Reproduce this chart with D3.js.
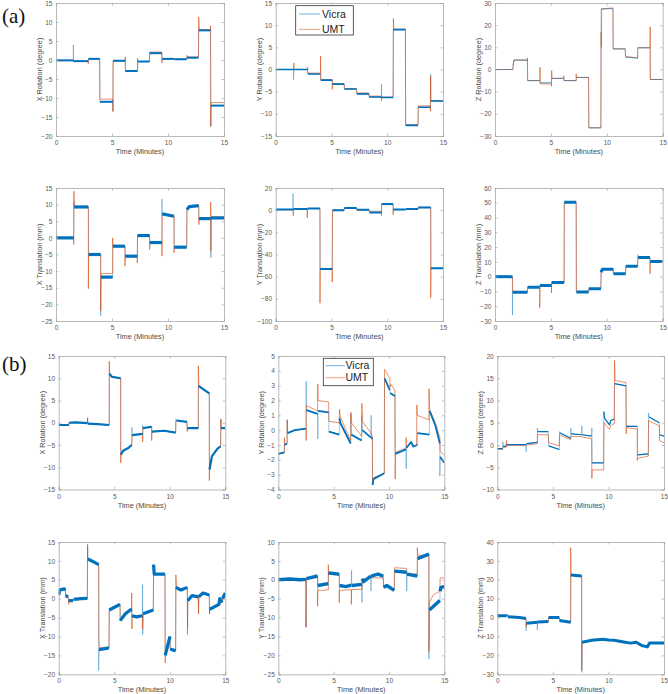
<!DOCTYPE html>
<html><head><meta charset="utf-8">
<script src="https://cdn.jsdelivr.net/npm/d3@7"></script>
<style>body{margin:0;background:#fff}svg{display:block}</style>
</head><body>
<script>
// ---------- DATA ----------
const xTicks = [0, 5, 10, 15];
const seriesNames = ["Vicra", "UMT"];
const panelLabels = ["(a)", "(b)"];
const yLabels = ["X Rotation (degree)", "Y Rotation (degree)", "Z Rotation (degree)",
                 "X Translation (mm)", "Y Translation (mm)", "Z Translation (mm)"];
const xLabel = "Time (Minutes)";

const yTicksA1 = [-20,-15,-10,-5,0,5,10,15];
const yTicksA2 = [-15,-10,-5,0,5,10,15];
const yTicksA3 = [-30,-20,-10,0,10,20,30];
const yTicksA4 = [-25,-20,-15,-10,-5,0,5,10,15];
const yTicksA5 = [-100,-80,-60,-40,-20,0,20];
const yTicksA6 = [-30,-20,-10,0,10,20,30,40,50,60];
const yTicksB1 = [-15,-10,-5,0,5,10,15];
const yTicksB2 = [-4,-3,-2,-1,0,1,2,3,4,5];
const yTicksB3 = [-10,-5,0,5,10,15,20];
const yTicksB4 = [-20,-15,-10,-5,0,5,10,15];
const yTicksB5 = [-25,-20,-15,-10,-5,0,5,10];
const yTicksB6 = [-30,-20,-10,0,10,20,30,40];

// [time (min), value]
const a1Vicra = [[0,-0.1],[1.55,-0.1],[1.55,4],[1.56,-0.3],[2.88,-0.3],[2.9,0.3],[3.9,0.3],[3.92,-11],[5.08,-11],[5.08,-13.6],[5.1,-0.2],[6.18,-0.2],[6.2,-2.9],[7.28,-2.9],[7.3,-0.4],[8.35,-0.4],[8.37,1.8],[9.45,1.8],[9.47,0.3],[10.57,0.3],[10.59,0.2],[11.67,0.2],[11.69,0.6],[12.72,0.6],[12.74,7.8],[13.8,7.8],[13.82,-17.5],[13.84,-12],[15,-12]];
const a1UMT = [[0,-0.1],[1.55,-0.1],[1.57,-0.4],[2.88,-0.4],[2.88,-1],[2.9,0.3],[3.9,0.3],[3.92,-10.3],[5.08,-10.3],[5.08,-13.5],[5.1,-0.2],[6.16,-0.2],[6.18,0.8],[6.2,-2.8],[7.28,-2.8],[7.28,0.5],[7.3,-0.4],[8.35,-0.4],[8.37,2.1],[9.45,2.1],[9.45,-0.8],[9.47,0.3],[10.57,0.3],[10.59,0.2],[11.67,0.2],[11.69,1.2],[11.71,0.8],[12.72,0.8],[12.74,11.3],[12.8,8],[13.78,8],[13.8,9],[13.82,-17.5],[13.84,-11.2],[15,-11.2]];

const a2Vicra = [[0,0],[1.6,0],[1.6,-2.3],[1.62,0],[2.86,0],[2.88,-1],[4.02,-1],[4.04,-2.4],[5.07,-2.4],[5.09,-3.3],[6.14,-3.3],[6.16,-4.4],[7.25,-4.4],[7.27,-5.5],[8.35,-5.5],[8.37,-6.2],[9.48,-6.2],[9.48,-3.3],[9.5,-6.3],[10.53,-6.3],[10.55,9],[11.63,9],[11.65,-12.6],[12.76,-12.6],[12.78,-8.5],[13.87,-8.5],[13.89,-1],[13.91,-7.1],[15,-7.1]];
const a2UMT = [[0,0],[1.6,0],[1.63,1.5],[1.65,0],[2.86,0],[2.86,0.5],[2.88,-0.8],[4.02,-0.8],[4.02,3],[4.04,-2.3],[5.07,-2.3],[5.07,-4.5],[5.09,-3.2],[6.14,-3.2],[6.16,-4.3],[7.25,-4.3],[7.27,-5.3],[8.35,-5.3],[8.37,-6],[9.46,-6],[9.48,-7],[9.5,-6.2],[10.53,-6.2],[10.55,11.5],[10.6,9.1],[11.63,9.1],[11.65,-12.4],[12.76,-12.4],[12.78,-8.2],[13.87,-8.2],[13.87,-9.4],[13.89,-1.5],[13.91,-7],[15,-7]];

const a3Vicra = [[0,0],[1.6,0],[1.62,2],[1.7,4.2],[2.9,4.2],[2.92,-5],[4.02,-5],[4.04,-6],[5.05,-6],[5.07,-4],[6.15,-4],[6.17,-5],[7.26,-5],[7.28,-3.6],[8.37,-3.6],[8.39,-26.3],[9.47,-26.3],[9.49,27.3],[10.55,27.5],[10.57,9.3],[11.65,9.3],[11.67,5.5],[12.76,5.2],[12.78,9.8],[13.86,9.8],[13.88,-4.5],[15,-4.5]];
const a3UMT = [[0,0],[1.6,0],[1.62,2],[1.7,4.3],[2.9,4.3],[2.9,5.2],[2.92,-5],[4.02,-5],[4.02,1],[4.04,-6.5],[5.05,-6.5],[5.05,-7.5],[5.07,-0.5],[5.09,-4],[6.15,-4],[6.15,-2.8],[6.17,-5],[7.26,-5],[7.26,-2],[7.28,-3.6],[8.37,-3.6],[8.39,-26.3],[9.47,-26.3],[9.49,17],[9.52,10],[9.54,27.3],[10.55,27.8],[10.57,9.3],[11.65,9.3],[11.67,6],[12.76,5.2],[12.76,9.5],[12.78,9.8],[13.86,9.8],[13.88,19.2],[13.9,-4.5],[15,-4.5]];

const a4Vicra = [[0,0],[1.58,0],[1.6,11],[1.62,9.3],[2.89,9.3],[2.91,-5],[3.99,-5],[3.99,-23.5],[4.01,-11.8],[5.06,-11.8],[5.08,-2.5],[6.16,-2.5],[6.18,-5.5],[7.26,-5.5],[7.28,0.7],[8.36,0.7],[8.38,-1.4],[9.46,-1.4],[9.46,11.7],[9.48,7.2],[10.54,6.5],[10.56,-2.8],[11.67,-2.8],[11.69,8.5],[11.9,9.4],[12.74,9.7],[12.76,5.8],[13.81,5.8],[13.83,-6],[13.85,6],[15,6]];
const a4UMT = [[0,0],[1.58,0],[1.58,-2],[1.6,14],[1.63,9.3],[2.89,9.3],[2.89,-15.3],[2.91,-5],[3.99,-5],[3.99,-22],[4.01,-10.7],[5.06,-10.7],[5.06,0],[5.08,-2.5],[6.16,-2.5],[6.16,-8.5],[6.18,-5.5],[7.26,-5.5],[7.26,-7.5],[7.28,0.7],[8.36,0.7],[8.36,-3.5],[8.38,-1.4],[9.46,-1.4],[9.46,-5.5],[9.48,7.2],[10.54,6.5],[10.54,-4.5],[10.56,-2.8],[11.67,-2.8],[11.69,8.5],[11.9,9.4],[12.74,9.7],[12.76,4],[12.78,5.8],[13.81,5.8],[13.81,10.8],[13.83,-4],[13.85,6.3],[15,6.3]];

const a5Vicra = [[0,0.5],[1.55,0.5],[1.55,15],[1.57,1],[2.83,1],[2.85,1.5],[3.97,1.5],[3.99,-53],[5.07,-53],[5.09,0],[6.14,0],[6.16,2],[7.25,2],[7.27,0.3],[8.38,0.3],[8.4,-2],[9.48,-2],[9.5,5.5],[10.53,5.5],[10.55,0.5],[11.66,0.5],[11.68,1],[12.76,1],[12.78,2.5],[13.9,2.5],[13.92,-52.5],[15,-52.5]];
const a5UMT = [[0,0.5],[1.57,0.5],[1.57,-5],[1.59,1],[2.83,1],[2.83,-7],[2.85,1.5],[3.97,1.5],[3.97,-84],[3.99,-53],[5.07,-53],[5.07,-65],[5.09,0],[6.14,0],[6.16,2],[7.25,2],[7.27,0.3],[8.38,0.3],[8.4,-1],[9.48,-1],[9.48,-5],[9.5,5],[10.53,5],[10.53,-4],[10.55,0.5],[11.66,0.5],[11.68,1],[12.76,1],[12.78,2.5],[13.9,2.5],[13.9,-79],[13.92,-52.5],[15,-52.5]];

const a6Vicra = [[0,0],[1.56,0],[1.56,-26],[1.58,-10.5],[2.9,-10.5],[2.92,-7.2],[4,-7.2],[4.02,-6],[5.05,-6],[5.07,-4],[6.18,-4],[6.2,50.3],[7.26,50.3],[7.28,-10.3],[8.37,-10.3],[8.39,-8.2],[9.47,-8.2],[9.49,3],[9.6,5],[10.58,5],[10.6,2],[11.68,2],[11.7,7],[12.76,7],[12.78,15],[12.8,13],[13.86,13],[13.88,10.3],[15,10.3]];
const a6UMT = [[0,0],[1.56,0],[1.58,-10.5],[2.9,-10.5],[2.92,-7.2],[4,-7.2],[4,-21],[4.02,-6],[5.05,-6],[5.05,-11],[5.07,-4],[6.18,-4],[6.2,50.3],[7.26,50.3],[7.28,-10.3],[8.37,-10.3],[8.39,-8.2],[9.47,-8.2],[9.49,3],[9.6,5],[10.58,5],[10.6,2],[11.68,2],[11.7,7],[12.76,7],[12.78,13],[13.86,13],[13.86,2],[13.88,10.3],[15,10.3]];

const b1Vicra = [[0,-0.5],[0.9,-0.5],[0.92,0],[1.5,0.1],[2.58,-0.1],[2.6,1.2],[2.62,-0.2],[3.5,-0.3],[4.55,-0.5],[4.57,11],[4.8,10.3],[5.58,10],[5.6,-7.2],[5.8,-6.3],[6.3,-5.6],[6.57,-5],[6.59,-1],[6.61,-2.8],[7.56,-2.5],[7.56,-0.5],[7.58,-1.2],[8.37,-0.9],[8.39,-2],[9.5,-1.8],[10.53,-2.2],[10.55,0.8],[10.6,0.5],[11.55,0.2],[11.57,-1.2],[12.57,-1.2],[12.59,8.3],[13.56,6.6],[13.58,-10.5],[13.8,-7.5],[14.3,-5.8],[14.58,-5.3],[14.6,0.8],[14.62,-1.2],[15,-1.2]];
const b1UMT = [[0,-0.5],[0.9,-0.5],[0.9,-0.8],[0.92,0],[1.5,0.1],[2.58,-0.1],[2.6,1],[2.62,-0.2],[3.5,-0.3],[4.55,-0.5],[4.55,13.8],[4.6,10.8],[4.8,10.3],[5.58,10],[5.58,-9],[5.62,-7],[5.8,-6.3],[6.3,-5.6],[6.57,-5],[6.59,-4],[6.61,-2.8],[7.56,-2.5],[7.56,-4.3],[7.58,-1.2],[8.37,-0.9],[8.37,-4],[8.39,-2],[9.5,-1.8],[10.53,-2.2],[10.55,0.5],[11.55,0.2],[11.57,-2],[11.59,-1.2],[12.57,-1.2],[12.57,12.8],[12.62,8.1],[13.56,6.6],[13.56,-13],[13.6,-9.5],[13.8,-7.5],[14.3,-5.8],[14.58,-5.3],[14.6,0.8],[14.62,-1.2],[15,-1.2]];

const b2Vicra = [[0,-1.6],[0.54,-1.5],[0.56,-1.0],[0.79,-0.9],[0.81,0.7],[0.83,-0.2],[1.5,0],[2.5,0.1],[2.52,3.3],[2.54,1.35],[3.55,1.1],[3.57,-0.6],[3.59,1.3],[4.55,1.2],[4.57,-0.1],[5.51,-0.3],[5.53,0.8],[5.6,0.5],[6.54,-0.9],[6.56,1.1],[6.6,-0.3],[7.53,-0.7],[7.55,1.0],[7.6,0],[8.37,-0.5],[8.39,1.0],[8.41,-0.5],[8.5,-0.6],[8.52,-3.7],[8.6,-3.3],[9.58,-2.9],[9.6,3.5],[10.08,2.7],[10.1,2.5],[10.54,2.3],[10.56,-1.6],[11.54,-1.3],[11.56,-2.6],[11.58,-1.2],[12,-0.8],[12.2,-1.1],[12.56,-1.0],[12.58,-0.2],[13.65,-0.3],[13.67,1.3],[14.2,0.3],[14.6,-0.9],[14.6,-3.1],[14.62,-1.8],[15,-2.2]];
const b2UMT = [[0,-1.6],[0.54,-1.5],[0.56,-0.5],[0.58,-1.0],[0.79,-0.9],[0.81,0.7],[0.83,-0.2],[1.5,0],[2.5,0.1],[2.52,-0.7],[2.54,1.65],[3.55,1.3],[3.57,3.1],[3.59,2.0],[4.55,1.9],[4.57,0.6],[5.51,0.5],[5.53,1.4],[5.6,0.9],[6.54,-0.7],[6.56,1.2],[6.6,0.5],[7.53,-0.4],[7.55,1.8],[7.6,0.6],[8.37,-0.2],[8.5,-0.4],[8.52,-3.5],[8.6,-3.2],[9.58,-2.9],[9.6,4.1],[10.08,3.5],[10.1,2.9],[10.15,3.1],[10.54,2.7],[10.56,-3.3],[10.6,-1.5],[11.54,-1.2],[11.56,-0.5],[11.58,-1.2],[12,-0.8],[12.2,-1.1],[12.5,-1.0],[12.52,1.7],[12.56,1.0],[13.6,0.7],[13.62,2.8],[13.67,1.4],[14.2,0.5],[14.6,-0.5],[14.62,-1.4],[15,-1.7]];

const b3Vicra = [[0,-0.8],[0.48,-0.8],[0.5,0.7],[0.52,-0.3],[0.8,-0.3],[0.82,0.1],[2.58,0.1],[2.6,-1.5],[2.62,0.3],[3.6,0.6],[3.62,3.8],[3.64,3.0],[4.59,3.0],[4.61,-0.2],[5.58,-1.0],[5.6,3.0],[5.62,2.75],[6.6,1.5],[6.62,3.8],[6.64,2.5],[7.59,2.3],[7.61,4.3],[7.63,2.3],[8.49,2.0],[8.51,3.8],[8.53,-4.0],[9.57,-4.0],[9.59,7.5],[9.65,6.0],[10.1,4.5],[10.2,5.5],[10.53,5.8],[10.55,13.8],[11.58,13.3],[11.6,4.2],[12.6,4.2],[12.62,-2.2],[13.59,-2.0],[13.61,7.2],[13.65,6.3],[14.58,5.0],[14.6,2.3],[15,2.0]];
const b3UMT = [[0,-1.0],[0.48,-1.0],[0.5,-0.5],[0.8,-0.5],[0.82,1.0],[0.84,-0.1],[2.58,-0.1],[2.62,0],[3.6,0.3],[3.62,2.3],[4.59,2.3],[4.61,0.7],[4.65,0.5],[5.58,-0.2],[5.6,2.3],[6.6,1.2],[6.62,1.9],[7.59,1.9],[7.61,1.8],[8.49,1.4],[8.51,-7.5],[8.53,-5.6],[9.57,-5.6],[9.59,5.0],[10.1,3.5],[10.2,4.3],[10.53,4.8],[10.55,19],[10.6,14.5],[11.58,14.0],[11.6,2.5],[11.62,3.9],[12.6,3.6],[12.6,-3.5],[12.62,-3.0],[13.59,-2.5],[13.61,5.5],[14.58,4.3],[14.6,1.0],[15,0.5]];

const b4Vicra = [[0,1],[0.1,2.3],[0.5,2.6],[0.6,2.3],[0.62,0.8],[0.85,0.5],[0.9,-0.5],[1.3,-0.5],[1.35,-0.2],[2.0,0],[2.58,0.1],[2.6,14.5],[2.62,10.5],[3.1,9.8],[3.6,9],[3.6,-19],[3.62,-13.5],[4.53,-13],[4.55,-3],[5.2,-2],[5.52,-1.5],[5.54,-5.8],[6.0,-4],[6.57,-2.7],[6.59,-4.5],[7.0,-4.8],[7.53,-4.5],[7.55,3.7],[7.57,-9.5],[7.6,-4],[8.52,-3],[8.54,9],[8.6,6.5],[9.57,6.5],[9.59,-15],[10.02,-10],[10.04,-13.3],[10.53,-13.8],[10.55,3],[11.0,2.3],[11.58,3],[11.6,-9.5],[11.62,-0.5],[12,0.8],[12.57,0.5],[12.59,-4],[12.61,0.5],[13,1.5],[13.56,1],[13.58,-4],[13.6,-2.8],[14.43,-1.5],[14.5,0],[14.7,-1],[14.75,0],[15,1.5]];
const b4UMT = [[0,1],[0.1,2.3],[0.5,2.6],[0.6,2.3],[0.62,0.8],[0.85,0.5],[0.9,-1.5],[0.92,-0.5],[1.3,-0.5],[1.35,-0.2],[2.0,0],[2.58,0.1],[2.6,14],[2.62,10.5],[3.1,9.8],[3.6,9],[3.62,-10],[3.65,-12.9],[4.53,-12.9],[4.55,-3],[5.2,-2],[5.52,-1.5],[5.54,-5.8],[6.0,-4],[6.57,-2.7],[6.57,1.5],[6.59,-8],[6.61,-4.5],[7.0,-4.8],[7.53,-4.5],[7.55,-8],[7.6,-4],[8.52,-3],[8.54,6.5],[9.57,6.5],[9.59,-17],[9.62,-15],[10.02,-10],[10.04,-13.3],[10.53,-13.8],[10.55,6.3],[10.6,3],[11.0,2.3],[11.58,3],[11.6,-8],[11.62,-0.5],[12,0.8],[12.57,0.5],[12.59,-4],[12.61,0.5],[13,1.5],[13.56,1],[13.58,-4],[13.6,-2.8],[14.43,-1.5],[14.5,0],[14.7,-1],[14.75,0],[15,1.5]];

const b5Vicra = [[0,0],[1.0,0.2],[2.0,0],[2.5,0.1],[2.52,-12.5],[2.54,0.3],[3.55,1.0],[3.57,-1.5],[4.52,-1.0],[4.54,1.8],[5.51,1.5],[5.53,-1.5],[6.1,-1.8],[6.6,-1.4],[6.62,2.5],[6.64,-1.5],[7.56,-1.2],[7.56,-6],[7.58,0.3],[7.7,-0.5],[8.37,1.0],[8.37,-3],[8.39,1.0],[9.0,1.5],[9.49,1.0],[9.51,-2],[9.8,-1.5],[10.48,-2.8],[10.5,2.3],[11.6,2.0],[11.6,-3],[11.62,1.5],[12.56,1.0],[12.58,5.6],[13.61,6.8],[13.61,-21],[13.65,-8],[14.6,-5.5],[14.62,-3],[14.7,-2],[15,-1.8]];
const b5UMT = [[0,0],[1.0,0.2],[2.0,0],[2.5,0.1],[2.5,-12.6],[2.52,0.3],[3.55,0.8],[3.55,-7],[3.57,-2.8],[4.52,-2.7],[4.52,4],[4.54,1.5],[5.51,1.2],[5.51,-6],[5.53,-2.8],[6.6,-2.6],[6.6,-6.5],[6.62,-2.6],[7.56,-2.5],[7.58,0],[8.37,0.7],[8.39,0.5],[9.49,0.5],[9.51,-1.5],[10.48,-2.5],[10.5,3.2],[11.6,3.0],[11.62,1.5],[12.56,1.5],[12.56,8.5],[12.6,6.5],[13.61,6.5],[13.61,-19],[13.65,-6],[14.0,-4],[14.6,-3],[14.62,0.5],[15,0.5]];

const b6Vicra = [[0,1],[0.85,1],[0.9,1.8],[0.95,0.5],[2.0,0],[2.58,-0.5],[2.6,-7],[2.62,-3],[3.6,-2.5],[3.6,-6.5],[3.62,-2.3],[4.59,-2],[4.61,0],[5.58,0],[5.6,-1.5],[6.6,-2.5],[6.62,22.5],[7.59,22],[7.61,-29],[7.63,-13],[8.5,-12],[9.5,-11.5],[10.0,-11.8],[10.5,-12],[11.5,-13],[12.0,-13.5],[12.5,-13],[13.0,-14.8],[13.5,-15.5],[13.7,-13.5],[15,-13.5]];
const b6UMT = [[0,1],[0.85,1],[0.9,1.8],[0.95,0.5],[2.0,0],[2.58,-0.5],[2.6,-5],[2.62,-3],[3.6,-2.5],[3.62,-2.3],[4.59,-2],[4.61,0],[5.58,0],[5.6,-1.5],[6.6,-2.5],[6.6,37],[6.64,22.5],[7.59,22],[7.59,-28],[7.63,-13],[8.5,-12],[9.5,-11.5],[10.0,-11.8],[10.5,-12],[11.5,-13],[12.0,-13.5],[12.5,-13],[13.0,-14.8],[13.5,-15.5],[13.7,-13.5],[15,-13.5]];

// ---------- LAYOUT / STYLE ----------
const W = 668, H = 694;
const colV = "#0072BD", colU = "#D95319";
const colsA = [[56,224],[275.7,443],[495,662.7]];
const colsB = [[58.7,225.3],[278.3,444.3],[497.3,664]];
const panels = [
  {c:colsA[0], r:[3,136],   dom:[-20,15],  ticks:yTicksA1, lab:0, v:a1Vicra, u:a1UMT, vw:2.0},
  {c:colsA[1], r:[3,136],   dom:[-15,15],  ticks:yTicksA2, lab:1, v:a2Vicra, u:a2UMT, vw:1.6, legend:{x:295.7,y:5.7,w:57.6,h:29.3,r1:14,r2:29.3,lx0:299,lx1:320,tx:322}},
  {c:colsA[2], r:[3,136],   dom:[-30,30],  ticks:yTicksA3, lab:2, v:a3Vicra, u:a3UMT, vw:0.8, vop:0.55},
  {c:colsA[0], r:[188,321], dom:[-25,15],  ticks:yTicksA4, lab:3, v:a4Vicra, u:a4UMT, vw:3.2},
  {c:colsA[1], r:[188,321], dom:[-100,20], ticks:yTicksA5, lab:4, v:a5Vicra, u:a5UMT, vw:2.0},
  {c:colsA[2], r:[188,321], dom:[-30,60],  ticks:yTicksA6, lab:5, v:a6Vicra, u:a6UMT, vw:3.0},
  {c:colsB[0], r:[356,489.5], dom:[-15,15], ticks:yTicksB1, lab:0, v:b1Vicra, u:b1UMT, vw:2.2},
  {c:colsB[1], r:[356,489.5], dom:[-4,5],   ticks:yTicksB2, lab:1, v:b2Vicra, u:b2UMT, vw:1.8, legend:{x:323.3,y:358.3,w:50,h:27.4,r1:365.7,r2:377.7,lx0:325.5,lx1:345,tx:345.5}},
  {c:colsB[2], r:[356,489.5], dom:[-10,20], ticks:yTicksB3, lab:2, v:b3Vicra, u:b3UMT, vw:1.2},
  {c:colsB[0], r:[542,674.3], dom:[-20,15], ticks:yTicksB4, lab:3, v:b4Vicra, u:b4UMT, vw:3.2},
  {c:colsB[1], r:[542,674.3], dom:[-25,10], ticks:yTicksB5, lab:4, v:b5Vicra, u:b5UMT, vw:3.4},
  {c:colsB[2], r:[542,674.3], dom:[-30,40], ticks:yTicksB6, lab:5, v:b6Vicra, u:b6UMT, vw:3.0}
];

// split a series into runs of "held" segments (duration longer than an instantaneous jump)
function heldRuns(pts) {
  const runs = []; let cur = null;
  for (let k = 1; k < pts.length; k++) {
    const held = pts[k][0] - pts[k-1][0] > 0.06;
    if (held) {
      if (!cur) { cur = [pts[k-1]]; runs.push(cur); }
      cur.push(pts[k]);
    } else cur = null;
  }
  return runs;
}

const svg = d3.select("body").append("svg").attr("width", W).attr("height", H)
  .style("font-family", "'Liberation Sans', Arial, sans-serif");

const axisCol = "#a8a8a8", textCol = "#5a5a5a";

panels.forEach((p, i) => {
  const x = d3.scaleLinear().domain([0, 15]).range(p.c);
  const y = d3.scaleLinear().domain(p.dom).range([p.r[1], p.r[0]]);
  const g = svg.append("g");
  const cid = "clip" + i;
  g.append("clipPath").attr("id", cid).append("rect")
    .attr("x", p.c[0]).attr("y", p.r[0] - 1).attr("width", p.c[1] - p.c[0]).attr("height", p.r[1] - p.r[0] + 2);

  const line = d3.line().x(d => x(d[0])).y(d => y(d[1]));
  const dg = g.append("g").attr("clip-path", `url(#${cid})`);
  // thin full traces
  dg.append("path").datum(p.v).attr("d", line).attr("fill", "none")
    .attr("stroke", colV).attr("stroke-width", 0.7).attr("stroke-opacity", 0.55);
  dg.append("path").datum(p.u).attr("d", line).attr("fill", "none")
    .attr("stroke", colU).attr("stroke-width", 0.75).attr("stroke-opacity", 0.85);
  // noisy held plateaus of Vicra (drawn thick)
  dg.selectAll(null).data(heldRuns(p.v)).join("path").attr("d", line).attr("fill", "none")
    .attr("stroke", colV).attr("stroke-width", p.vw).attr("stroke-opacity", p.vop || 1)
    .attr("stroke-linecap", "butt").attr("stroke-linejoin", "round");

  // axes
  const ax = d3.axisBottom(x).tickValues(xTicks).tickSize(-2.5).tickPadding(4.5);
  const ay = d3.axisLeft(y).tickValues(p.ticks).tickSize(-2.5).tickPadding(3.5);
  const gx = g.append("g").attr("transform", `translate(0,${p.r[1]})`).call(ax);
  const gy = g.append("g").attr("transform", `translate(${p.c[0]},0)`).call(ay);
  const gx2 = g.append("g").attr("transform", `translate(0,${p.r[0]})`).call(d3.axisTop(x).tickValues(xTicks).tickSize(-2.5).tickFormat(""));
  const gy2 = g.append("g").attr("transform", `translate(${p.c[1]},0)`).call(d3.axisRight(y).tickValues(p.ticks).tickSize(-2.5).tickFormat(""));
  [gx, gy, gx2, gy2].forEach(a => {
    a.select(".domain").attr("stroke", axisCol).attr("stroke-width", 0.8);
    a.selectAll(".tick line").attr("stroke", axisCol).attr("stroke-width", 0.7);
    a.selectAll(".tick text").attr("fill", textCol).style("font-size", "6.6px")
      .style("font-family", "'Liberation Sans', Arial, sans-serif");
  });

  // labels
  g.append("text").attr("x", (p.c[0] + p.c[1]) / 2).attr("y", p.r[1] + 18)
    .attr("text-anchor", "middle").attr("fill", "#4a4a4a").style("font-size", "7.3px").text(xLabel);
  g.append("text").attr("transform", `translate(${p.c[0] - 14},${(p.r[0] + p.r[1]) / 2}) rotate(-90)`)
    .attr("text-anchor", "middle").attr("fill", "#4a4a4a").style("font-size", "7.3px").text(yLabels[p.lab]);

  if (p.legend) {
    const L = p.legend;
    g.append("rect").attr("x", L.x).attr("y", L.y).attr("width", L.w).attr("height", L.h)
      .attr("fill", "#fff").attr("stroke", "#333").attr("stroke-width", 0.8);
    [[L.r1, colV, seriesNames[0]], [L.r2, colU, seriesNames[1]]].forEach(([ry, c, t]) => {
      g.append("line").attr("x1", L.lx0).attr("x2", L.lx1).attr("y1", ry).attr("y2", ry)
        .attr("stroke", c).attr("stroke-width", 0.8).attr("stroke-opacity", 0.7);
      g.append("text").attr("x", L.tx).attr("y", ry + 3.6).attr("fill", "#222")
        .style("font-size", "10.5px").text(t);
    });
  }
});

// panel letters
[[2, 23, panelLabels[0]], [2, 371, panelLabels[1]]].forEach(([px, py, t]) => {
  svg.append("text").attr("x", px).attr("y", py).attr("fill", "#111")
    .style("font-family", "'Liberation Serif', 'Times New Roman', serif").style("font-size", "21px").text(t);
});
</script>
</body></html>
